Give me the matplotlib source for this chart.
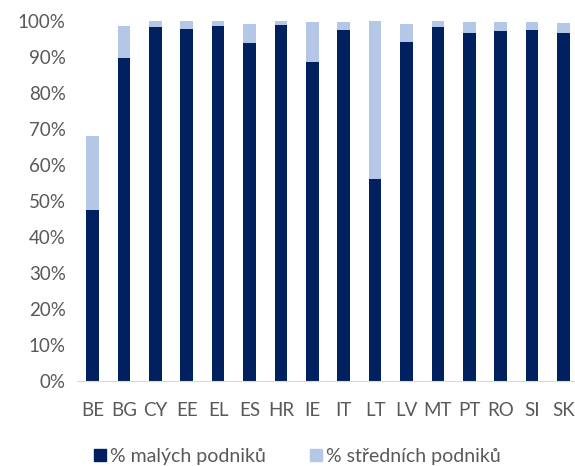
import matplotlib.pyplot as plt
from matplotlib.patches import Patch
from matplotlib.ticker import PercentFormatter

countries = ["BE", "BG", "CY", "EE", "EL", "ES", "HR", "IE",
             "IT", "LT", "LV", "MT", "PT", "RO", "SI", "SK"]
small = [47.4, 89.7, 98.3, 97.6, 98.5, 93.8, 98.8, 88.6,
         97.3, 56.0, 94.1, 98.3, 96.6, 97.1, 97.3, 96.5]
medium = [20.6, 8.8, 1.5, 2.2, 1.3, 5.2, 1.0, 10.9,
          2.3, 43.9, 4.9, 1.6, 2.9, 2.4, 2.2, 2.9]

dark = "#002060"
light = "#B4C7E7"
grey = "#595959"

plt.rcParams["font.family"] = ["Lato", "DejaVu Sans"]

fig = plt.figure(figsize=(5.75, 4.66), dpi=100)
ax = fig.add_axes([76.8 / 575, 85.3 / 466, (575 - 76.8) / 575, 360.2 / 466])

x = range(len(countries))
ax.bar(x, small, width=0.405, color=dark)
ax.bar(x, medium, width=0.405, bottom=small, color=light)

ax.set_xlim(-0.5, -0.5 + (575 - 76.8) / 31.4)
ax.set_ylim(0, 100)
ax.set_yticks(range(0, 101, 10))
ax.yaxis.set_major_formatter(PercentFormatter(decimals=0))
ax.set_xticks(list(x))
ax.set_xticklabels(countries)

for side in ["top", "right", "left"]:
    ax.spines[side].set_visible(False)
ax.spines["bottom"].set_color("#D9D9D9")
ax.tick_params(axis="both", length=0, labelsize=13.5, colors=grey)
ax.tick_params(axis="x", pad=15)
ax.tick_params(axis="y", pad=8)

handles = [Patch(color=dark, label="% malých podniků"),
           Patch(color=light, label="% středních podniků")]
fig.legend(handles=handles, loc="center", bbox_to_anchor=(0.517, 0.021),
           ncol=2, frameon=False, fontsize=14, labelcolor=grey,
           handlelength=0.6, handleheight=0.6, handletextpad=0.2,
           columnspacing=2.3)

fig.savefig("out.png", dpi=100)
